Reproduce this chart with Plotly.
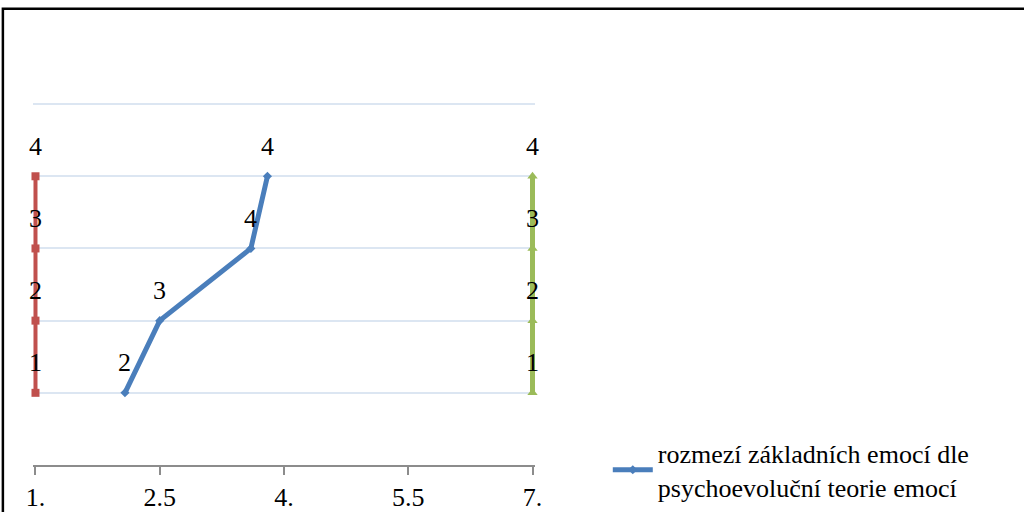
import plotly.graph_objects as go

# Series data
red_x = [1, 1, 1, 1]
red_y = [1, 2, 3, 4]
red_labels = ["1", "2", "3", "4"]

green_x = [7, 7, 7, 7]
green_y = [1, 2, 3, 4]
green_labels = ["1", "2", "3", "4"]

blue_x = [2.08, 2.5, 3.6, 3.8]
blue_y = [1, 2, 3, 4]
blue_labels = ["2", "3", "4", "4"]
blue_name = "rozmezí základních emocí dle<br>psychoevoluční teorie emocí"

x_ticks = [1, 2.5, 4, 5.5, 7]
x_tick_text = ["1.", "2.5", "4.", "5.5", "7."]
y_grid = [1, 2, 3, 4, 5]

RED = "#C0504D"
GREEN = "#9BBB59"
BLUE = "#4A7EBB"
FONT = "'Liberation Serif', 'Times New Roman', serif"
TEXT_SIZE = 26

fig = go.Figure()

fig.add_trace(go.Scatter(
    x=red_x, y=red_y, mode="lines+markers", showlegend=False,
    line=dict(color=RED, width=4),
    marker=dict(symbol="square", size=8, color=RED),
    cliponaxis=False,
))
fig.add_trace(go.Scatter(
    x=green_x, y=green_y, mode="lines+markers", showlegend=False,
    line=dict(color=GREEN, width=5),
    marker=dict(symbol="triangle-up", size=9, color=GREEN),
    cliponaxis=False,
))
fig.add_trace(go.Scatter(
    x=blue_x, y=blue_y, mode="lines+markers", name=blue_name,
    line=dict(color=BLUE, width=5),
    marker=dict(symbol="diamond", size=7, color=BLUE),
    cliponaxis=False,
))

# Data labels above each point
annotations = []
for xs, ys, labels in [(red_x, red_y, red_labels),
                       (green_x, green_y, green_labels),
                       (blue_x, blue_y, blue_labels)]:
    for x, y, t in zip(xs, ys, labels):
        annotations.append(dict(
            x=x, y=y, text=t, showarrow=False, yshift=30,
            font=dict(family=FONT, size=TEXT_SIZE, color="black"),
        ))

# x: 1 -> 35 px, 7 -> 533 px (83 px/unit), padded so edge lines are not clipped
X_PAD = 0.03
pad_px = X_PAD * 83
fig.update_layout(
    width=1024, height=512,
    margin=dict(l=35 - pad_px, r=491 - pad_px, t=103, b=47, autoexpand=False),
    paper_bgcolor="white", plot_bgcolor="white",
    font=dict(family=FONT, size=TEXT_SIZE, color="black"),
    annotations=annotations,
    xaxis=dict(
        range=[1 - X_PAD, 7 + X_PAD], tickvals=x_ticks, ticktext=x_tick_text,
        showgrid=False, zeroline=False,
        showline=True, linecolor="#8C8C8C", linewidth=2,
        ticks="outside", ticklen=8, tickwidth=2, tickcolor="#8C8C8C",
        tickfont=dict(family=FONT, size=TEXT_SIZE, color="black"),
    ),
    yaxis=dict(
        range=[0, 5.015], tickvals=y_grid, showticklabels=False,
        showgrid=True, gridcolor="#DCE6F2", gridwidth=2,
        zeroline=False, showline=False, ticks="",
    ),
    legend=dict(
        x=1.145, y=0.098, xanchor="left", yanchor="top",
        font=dict(family=FONT, size=TEXT_SIZE, color="black"),
        bgcolor="rgba(0,0,0,0)", itemwidth=40,
    ),
    shapes=[dict(
        type="rect", xref="paper", yref="paper",
        x0=-0.06, x1=2.2,
        y0=-0.3, y1=(465 - 10) / 361,
        line=dict(color="black", width=2.5), layer="above",
    )],
)

fig.write_html("out.html")
